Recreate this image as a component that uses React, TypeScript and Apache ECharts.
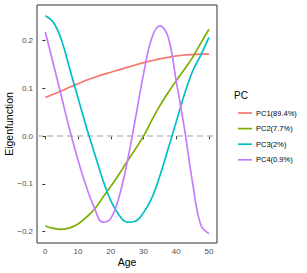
import React, { useEffect, useRef } from "react";
import * as echarts from "echarts";

const ages = [0, 2.5, 5, 7.5, 10, 12.5, 15, 17.5, 20, 22.5, 25, 27.5, 30, 32.5, 35, 37.5, 40, 42.5, 45, 47.5, 50];
const pc1 = [0.081, 0.088, 0.095, 0.103, 0.110, 0.117, 0.123, 0.129, 0.134, 0.139, 0.144, 0.149, 0.154, 0.158, 0.162, 0.165, 0.168, 0.170, 0.171, 0.172, 0.172];
const pc2 = [-0.188, -0.193, -0.195, -0.192, -0.184, -0.170, -0.153, -0.129, -0.105, -0.080, -0.053, -0.027, 0.000, 0.033, 0.064, 0.091, 0.116, 0.140, 0.165, 0.195, 0.224];
const pc3 = [0.252, 0.238, 0.200, 0.140, 0.080, 0.020, -0.035, -0.090, -0.135, -0.165, -0.180, -0.178, -0.160, -0.130, -0.083, -0.027, 0.030, 0.088, 0.136, 0.170, 0.207];
const pc4 = [0.218, 0.150, 0.081, 0.012, -0.050, -0.105, -0.150, -0.180, -0.172, -0.128, -0.055, 0.036, 0.130, 0.205, 0.231, 0.208, 0.115, 0.016, -0.098, -0.186, -0.204];
const seriesNames = ["PC1(89.4%)", "PC2(7.7%)", "PC3(2%)", "PC4(0.9%)"];
const seriesColors = ["#F8766D", "#7CAE00", "#00BFC4", "#C77CFF"];
const xTicks = [0, 10, 20, 30, 40, 50];
const yTicks = [-0.2, -0.1, 0, 0.1, 0.2];

const FONT = "'Liberation Sans', Arial, sans-serif";

export default function App() {
  const ref = useRef<HTMLDivElement>(null);
  useEffect(() => {
    if (!ref.current) return;
    const chart = echarts.init(ref.current, null, { renderer: "svg" });
    const all = [pc1, pc2, pc3, pc4];
    const series: any[] = all.map((vals, i) => ({
      name: seriesNames[i],
      type: "line",
      data: ages.map((a, j) => [a, vals[j]]),
      smooth: 0.4,
      showSymbol: false,
      symbol: "none",
      lineStyle: { color: seriesColors[i], width: 1.7 },
      itemStyle: { color: seriesColors[i] },
      z: 3 + i,
    }));
    series.unshift({
      name: "zero",
      type: "line",
      data: [],
      markLine: {
        silent: true,
        symbol: "none",
        label: { show: false },
        lineStyle: { color: "#bebebe", width: 1.5, type: [6, 4] },
        data: [{ yAxis: 0 }],
      },
      z: 1,
    });
    chart.setOption({
      animation: false,
      backgroundColor: "#ffffff",
      textStyle: { fontFamily: FONT },
      title: {
        text: "PC",
        left: 229,
        top: 85,
        textStyle: { fontSize: 10, fontWeight: "normal", color: "#000", fontFamily: FONT },
      },
      legend: {
        data: seriesNames,
        orient: "vertical",
        left: 233,
        top: 103,
        icon: "rect",
        itemWidth: 14,
        itemHeight: 1.7,
        itemGap: 5.6,
        textStyle: { fontSize: 7.5, color: "#000", fontFamily: FONT, lineHeight: 10, padding: [0, 0, 0, -1] },
        selectedMode: false,
      },
      grid: {
        left: 37,
        right: 90,
        top: 5,
        bottom: 30,
        show: true,
        borderColor: "#333333",
        borderWidth: 1,
        backgroundColor: "#ffffff",
        containLabel: false,
        outerBoundsMode: "none",
      },
      xAxis: {
        type: "value",
        min: -2.54,
        max: 52.45,
        name: "Age",
        nameLocation: "middle",
        nameGap: 13.5,
        nameMoveOverlap: false,
        nameTextStyle: { fontSize: 10.5, color: "#000", fontFamily: FONT },
        axisLine: { show: false },
        splitLine: { show: false },
        axisTick: { show: true, length: 3, lineStyle: { color: "#333333" }, customValues: xTicks },
        axisLabel: { fontSize: 8, color: "#4d4d4d", margin: 4, customValues: xTicks, formatter: (v: number) => String(v) },
      },
      yAxis: {
        type: "value",
        min: -0.2236,
        max: 0.2747,
        name: "Eigenfunction",
        nameLocation: "middle",
        nameGap: 23,
        nameMoveOverlap: false,
        nameTextStyle: { fontSize: 10.5, color: "#000", fontFamily: FONT },
        axisLine: { show: false },
        splitLine: { show: false },
        axisTick: { show: true, length: 3, lineStyle: { color: "#333333" }, customValues: yTicks },
        axisLabel: {
          fontSize: 8,
          color: "#4d4d4d",
          margin: 4,
          customValues: yTicks,
          formatter: (v: number) => v.toFixed(1).replace("-", "\u2212"),
        },
      },
      series,
    });
    return () => chart.dispose();
  }, []);
  return <div ref={ref} style={{ position: "fixed", left: 0, top: 0, width: 307, height: 273 }} />;
}
